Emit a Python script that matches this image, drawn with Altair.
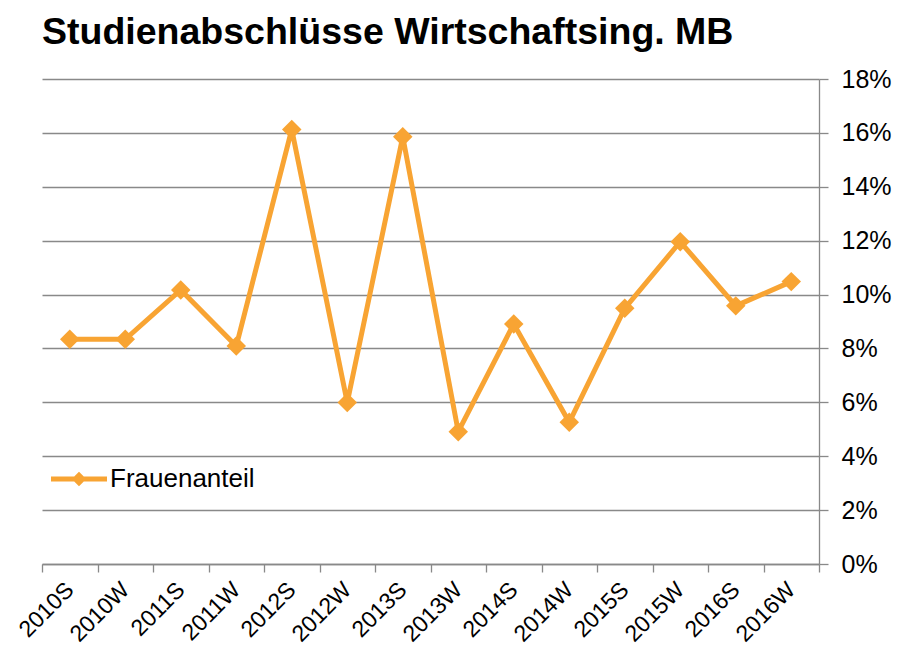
import altair as alt
import pandas as pd

semesters = ["2010S", "2010W", "2011S", "2011W", "2012S", "2012W", "2013S",
             "2013W", "2014S", "2014W", "2015S", "2015W", "2016S", "2016W"]
frauenanteil = [0.0834, 0.0834, 0.1017, 0.0809, 0.1613, 0.0599, 0.1586,
                0.0491, 0.0891, 0.0526, 0.0949, 0.1196, 0.0958, 0.1048]
series_name = ["Frauenanteil"] * len(semesters)
y_ticks = [0.0, 0.02, 0.04, 0.06, 0.08, 0.10, 0.12, 0.14, 0.16, 0.18]

df = pd.DataFrame({"Semester": semesters, "Anteil": frauenanteil, "Serie": series_name})

ORANGE = "#F8A433"
GRID = "#898989"
FONT = "Liberation Sans"

x_enc = alt.X(
    "Semester:N",
    sort=semesters,
    scale=alt.Scale(type="band", paddingInner=0, paddingOuter=0),
    axis=alt.Axis(
        title=None,
        labelAngle=-45,
        labelAlign="right",
        labelBaseline="middle",
        labelFontSize=23,
        labelFont=FONT,
        labelColor="black",
        labelPadding=14,
        tickBand="extent",
        tickSize=8,
        tickColor=GRID,
        tickWidth=1.3,
        domainColor=GRID,
        domainWidth=1.3,
        grid=False,
    ),
)
y_enc = alt.Y(
    "Anteil:Q",
    scale=alt.Scale(domain=[0, 0.18], nice=False),
    axis=alt.Axis(
        title=None,
        orient="right",
        values=y_ticks,
        format=".0%",
        labelFontSize=25,
        labelFont=FONT,
        labelColor="black",
        labelPadding=13,
        tickSize=9,
        tickColor=GRID,
        tickWidth=1.3,
        domainColor=GRID,
        domainWidth=1.3,
        grid=True,
        gridColor=GRID,
        gridWidth=1.3,
    ),
)

base = alt.Chart(df)
line = base.mark_line(color=ORANGE, strokeWidth=5).encode(x=x_enc, y=y_enc)
points = base.mark_point(shape="diamond", filled=True, size=380, opacity=1).encode(
    x=x_enc,
    y=y_enc,
    color=alt.Color(
        "Serie:N",
        scale=alt.Scale(range=[ORANGE]),
        legend=alt.Legend(
            title=None,
            orient="none",
            legendX=9,
            legendY=372,
            padding=0,
            symbolType="M-1,-0.09L1,-0.09L1,0.09L-1,0.09Z M-0.26,0L0,-0.26L0.26,0L0,0.26Z",
            symbolSize=3136,
            symbolFillColor=ORANGE,
            symbolStrokeWidth=0,
            labelFontSize=26,
            labelFont=FONT,
            labelColor="black",
            labelOffset=3,
        ),
    ),
)

chart = alt.layer(line, points).properties(
    width=777,
    height=485,
    title=alt.Title(
        "Studienabschlüsse Wirtschaftsing. MB",
        anchor="start",
        frame="group",
        font=FONT,
        fontSize=37.5,
        fontWeight="bold",
        color="black",
        offset=16,
    ),
    background="white",
    autosize=alt.AutoSizeParams(type="none"),
    padding={"left": 34, "top": 71, "right": 73, "bottom": 85},
).configure_view(strokeWidth=0)

chart.save("out.html", embed_options={"renderer": "svg", "actions": False})
